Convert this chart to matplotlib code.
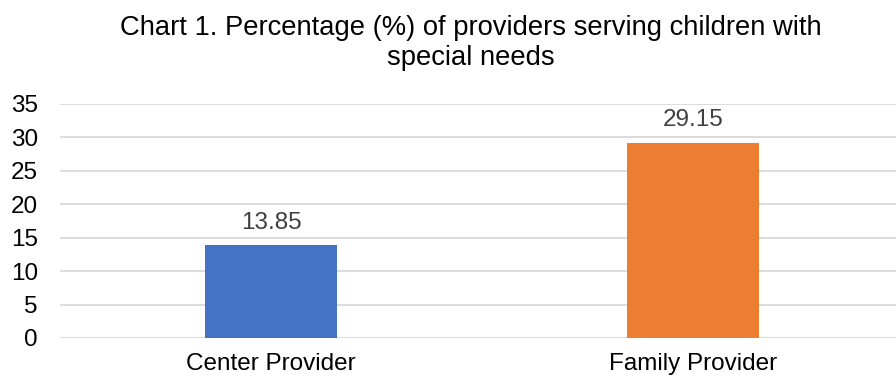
import matplotlib.pyplot as plt

plt.rcParams['font.family'] = ['Liberation Sans', 'DejaVu Sans']

categories = ['Center Provider', 'Family Provider']
values = [13.85, 29.15]
colors = ['#4472C4', '#ED7D31']
yticks = [0, 5, 10, 15, 20, 25, 30, 35]

W, H = 896, 378
fig = plt.figure(figsize=(W / 100, H / 100), dpi=100)
# plot area: left edge at 60px, runs a little past the right edge
ax = fig.add_axes([60 / W, 1 - 338 / H, 844 / W, 234 / H])

x = range(len(categories))
ax.bar(x, values, width=0.315, color=colors, zorder=3)
for xi, v in zip(x, values):
    ax.text(xi, v + 2.5, f'{v:.2f}', ha='center', va='baseline',
            fontsize=17.5, color='#404040')

ax.set_xlim(-0.5, 1.5)
ax.set_ylim(0, 35)
ax.set_yticks(yticks)
ax.set_xticks(list(x))
ax.set_xticklabels(categories, fontsize=17.5, color='#000000')
ax.tick_params(axis='y', labelsize=17.5, colors='#000000', length=0, pad=16)
ax.tick_params(axis='x', length=0, pad=11)
ax.grid(axis='y', color='#D9D9D9', linewidth=1.3, zorder=0)
for s in ax.spines.values():
    s.set_visible(False)

fig.text(471 / W, 1 - 28 / H, 'Chart 1. Percentage (%) of providers serving children with',
         ha='center', va='center', fontsize=19.7, color='#000000')
fig.text(471 / W, 1 - 58 / H, 'special needs',
         ha='center', va='center', fontsize=19.7, color='#000000')

fig.savefig('out.png', dpi=100)
